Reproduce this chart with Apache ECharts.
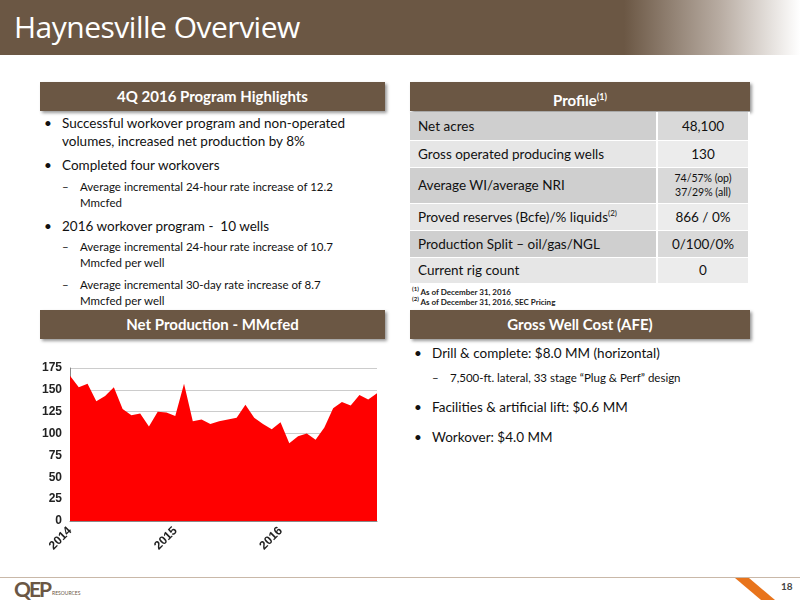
<!DOCTYPE html>
<html><head><meta charset="utf-8">
<script src="https://cdn.jsdelivr.net/npm/echarts@6/dist/echarts.min.js"></script>
<style>
body{margin:0;width:800px;height:600px;position:relative;font-family:Lato,"Noto Sans",sans-serif;background:#fff;overflow:hidden}
.abs{position:absolute}
.title{left:0;top:0;width:800px;height:55px;background:linear-gradient(90deg,#6b5744 0%,#6b5744 78%,#b8aca2 90%,#ffffff 100%)}
.title span{position:absolute;left:14px;top:6px;color:#fff;font-size:30px;font-family:"Open Sans",sans-serif;letter-spacing:-0.5px}
.hdr{background:#6b5744;color:#fff;font-weight:bold;font-size:15px;text-align:center;line-height:29px;height:29px;box-shadow:2px 2px 3px #999}
.bl{font-size:13.5px;color:#111;line-height:18px}
.sub{font-size:11.5px;color:#111;line-height:16px}
table{border-collapse:collapse;font-size:13.5px;color:#111}
td{border-right:2px solid #fff;border-bottom:1px solid #fff;padding:0 8px}
.fn{font-size:8px;font-weight:bold;color:#222}
</style></head><body>
<div class="abs title"><span>Haynesville Overview</span></div>
<div class="abs hdr" style="left:40px;top:82px;width:345px">4Q 2016 Program Highlights</div>
<div class="abs hdr" style="left:410px;top:82px;width:340px">Profile<sup style="font-size:9px">(1)</sup></div>

<div class="abs bl" style="left:44px;top:114px;width:340px">
<div style="position:relative;padding-left:18px"><span style="position:absolute;left:0">•</span>Successful workover program and non-operated volumes, increased net production by 8%</div>
<div style="position:relative;padding-left:18px;margin-top:6px"><span style="position:absolute;left:0">•</span>Completed four workovers</div>
<div class="sub" style="position:relative;padding-left:36px;margin-top:5px"><span style="position:absolute;left:18px">–</span>Average incremental 24-hour rate increase of 12.2<br>Mmcfed</div>
<div style="position:relative;padding-left:18px;margin-top:6px"><span style="position:absolute;left:0">•</span>2016 workover program - &nbsp;10 wells</div>
<div class="sub" style="position:relative;padding-left:36px;margin-top:4px"><span style="position:absolute;left:18px">–</span>Average incremental 24-hour rate increase of 10.7<br>Mmcfed per well</div>
<div class="sub" style="position:relative;padding-left:36px;margin-top:6px"><span style="position:absolute;left:18px">–</span>Average incremental 30-day rate increase of 8.7<br>Mmcfed per well</div>
</div>

<table class="abs" style="left:410px;top:112px;width:340px">
<tr style="height:28px"><td style="background:#cfcfcf">Net acres</td><td style="background:#d9d9d9;text-align:center">48,100</td></tr>
<tr style="height:27px"><td style="background:#e6e6e6">Gross operated producing wells</td><td style="background:#ececec;text-align:center">130</td></tr>
<tr style="height:36px"><td style="background:#cfcfcf">Average WI/average NRI</td><td style="background:#d9d9d9;text-align:center;font-size:10.5px;line-height:14px">74/57% (op)<br>37/29% (all)</td></tr>
<tr style="height:27px"><td style="background:#e6e6e6">Proved reserves (Bcfe)/% liquids<sup style="font-size:8px">(2)</sup></td><td style="background:#ececec;text-align:center">866 / 0%</td></tr>
<tr style="height:27px"><td style="background:#cfcfcf">Production Split – oil/gas/NGL</td><td style="background:#d9d9d9;text-align:center">0/100/0%</td></tr>
<tr style="height:26px"><td style="background:#e6e6e6;width:230px">Current rig count</td><td style="background:#ececec;text-align:center">0</td></tr>
</table>
<div class="abs fn" style="left:412px;top:285px"><sup style="font-size:6px">(1)</sup> As of December 31, 2016</div>
<div class="abs fn" style="left:412px;top:295px"><sup style="font-size:6px">(2)</sup> As of December 31, 2016, SEC Pricing</div>

<div class="abs hdr" style="left:40px;top:310px;width:345px">Net Production - MMcfed</div>
<div class="abs hdr" style="left:410px;top:310px;width:340px">Gross Well Cost (AFE)</div>

<div class="abs bl" style="left:414px;top:344px;width:340px">
<div style="position:relative;padding-left:18px"><span style="position:absolute;left:0">•</span>Drill &amp; complete: $8.0 MM (horizontal)</div>
<div class="sub" style="position:relative;padding-left:36px;margin-top:8px"><span style="position:absolute;left:18px">–</span>7,500-ft. lateral, 33 stage “Plug &amp; Perf” design</div>
<div style="position:relative;padding-left:18px;margin-top:12px"><span style="position:absolute;left:0">•</span>Facilities &amp; artificial lift: $0.6 MM</div>
<div style="position:relative;padding-left:18px;margin-top:12px"><span style="position:absolute;left:0">•</span>Workover: $4.0 MM</div>
</div>

<div id="c" class="abs" style="left:0;top:350px;width:400px;height:215px"></div>

<div class="abs" style="left:0;top:577px;width:800px;height:1px;background:#c9b8a8"></div>
<div class="abs" style="left:14px;top:578px;font-size:21px;line-height:21px;font-weight:bold;color:#6b5744;letter-spacing:-2px">QEP</div>
<div class="abs" style="left:52px;top:591px;font-size:5px;line-height:5px;color:#6b5744">RESOURCES</div>
<svg class="abs" style="left:735px;top:578px" width="50" height="22"><polygon points="0,0 14,0 40,22 26,22" fill="#e8741c"/></svg>
<div class="abs" style="left:781px;top:580px;font-size:10px;font-weight:bold;color:#444">18</div>

<script>
const months = [];
for (let y of [2014,2015,2016]) for (let m=1;m<=12;m++) months.push(y+'-'+m);
const production = [166,153,157,137,143,153,128,121,123,108,125,124,120,157,114,116,111,114,116,118,133,118,111,105,113,89,97,100,93,107,129,136,132,144,139,146];
const yTicks = [0,25,50,75,100,125,150,175];
const chart = echarts.init(document.getElementById('c'));
chart.setOption({
  animation:false,
  grid:{left:70,right:23,top:18,bottom:44},
  xAxis:{type:'category',data:months,boundaryGap:false,
    axisLine:{lineStyle:{color:'#888'}},axisTick:{show:false},
    axisLabel:{interval:0,rotate:45,color:'#222',fontWeight:'bold',fontSize:12,margin:8,
      formatter:(v)=>v.endsWith('-1')?v.split('-')[0]:''}},
  yAxis:{type:'value',min:0,max:175,interval:25,
    axisLine:{show:true,lineStyle:{color:'#888'}},
    axisLabel:{color:'#222',fontWeight:'bold',fontSize:12,formatter:(v)=>yTicks.includes(v)?v:''},
    splitLine:{lineStyle:{color:'#ccc'}}},
  series:[{type:'line',data:production,symbol:'none',lineStyle:{width:0},
    areaStyle:{color:'#ff0000',opacity:1},itemStyle:{color:'#ff0000'}}]
});
</script>
</body></html>
